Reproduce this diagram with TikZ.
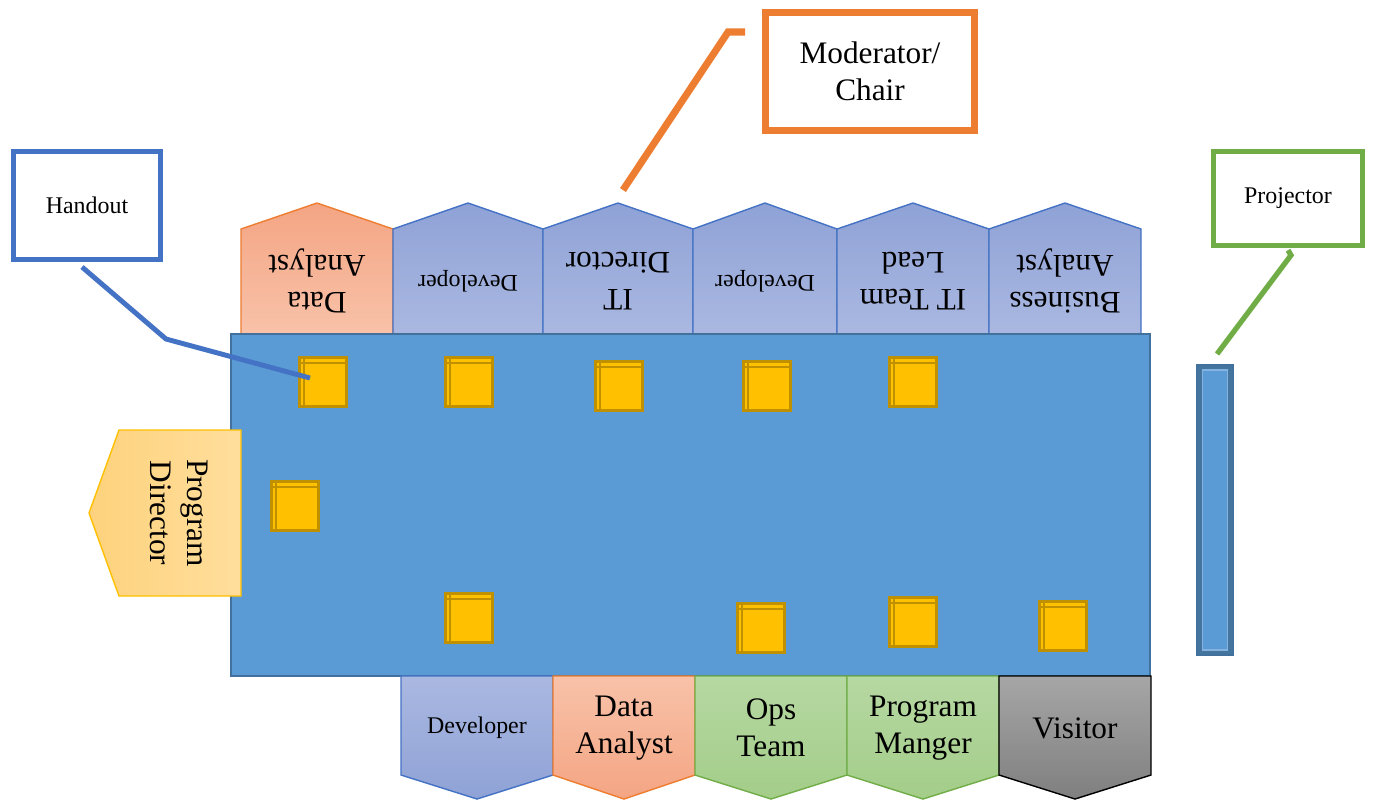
\documentclass[tikz,border=0pt]{standalone}
\usepackage{fontspec}
\setmainfont{Liberation Serif}

\definecolor{tablefill}{HTML}{5B9BD5}
\definecolor{tableline}{HTML}{41719C}
\definecolor{scrframe}{HTML}{44759F}
\definecolor{scrlight}{HTML}{86B2E0}
\definecolor{seatline}{HTML}{4472C4}
\definecolor{bluedark}{HTML}{8FA2D6}
\definecolor{bluelight}{HTML}{AAB8E1}
\definecolor{orangeline}{HTML}{ED7D31}
\definecolor{salmondark}{HTML}{F4A583}
\definecolor{salmonlight}{HTML}{F8C2A9}
\definecolor{greenline}{HTML}{70AD47}
\definecolor{greendark}{HTML}{A3CD89}
\definecolor{greenlight}{HTML}{B6D8A2}
\definecolor{greydark}{HTML}{7F7F7F}
\definecolor{greylight}{HTML}{A6A6A6}
\definecolor{goldline}{HTML}{FFC000}
\definecolor{golddark}{HTML}{FED27D}
\definecolor{goldlight}{HTML}{FFDE9C}
\definecolor{handfill}{HTML}{FFC000}
\definecolor{handline}{HTML}{BF9000}

\tikzset{
  bigtxt/.style={font=\fontsize{8.9}{10.5}\selectfont, align=center, inner sep=0pt},
  smalltxt/.style={font=\fontsize{6.8}{8}\selectfont, align=center, inner sep=0pt},
  upblue/.style={top color=bluedark, bottom color=bluelight, draw=seatline, line width=0.4pt},
  upsalmon/.style={top color=salmondark, bottom color=salmonlight, draw=orangeline, line width=0.4pt},
  downblue/.style={top color=bluelight, bottom color=bluedark, draw=seatline, line width=0.4pt},
  downsalmon/.style={top color=salmonlight, bottom color=salmondark, draw=orangeline, line width=0.4pt},
  downgreen/.style={top color=greenlight, bottom color=greendark, draw=greenline, line width=0.4pt},
  downgrey/.style={top color=greylight, bottom color=greydark, draw=black, line width=0.4pt},
  tablebox/.style={rectangle, fill=tablefill, draw=tableline, line width=0.6pt, inner sep=0pt},
  handout/.style={rectangle, fill=handfill, draw=handline, line width=0.85pt, inner sep=0pt,
    minimum width=0.47cm, minimum height=0.49cm, anchor=north west},
  handoutline/.style={draw=handline, line width=0.8pt},
  callout/.style={rectangle, fill=white, inner sep=0pt},
  leader/.style={line width=1.4pt},
}

\begin{document}
\begin{tikzpicture}[x=0.01cm, y=-0.01cm]
    \useasboundingbox (0,0) rectangle (1374,799);

    % seats along the far side, names turned towards the table
    \foreach \xl/\xr/\kind/\txt/\sz [count=\i] in {241/393/upsalmon/{Data\\Analyst}/bigtxt,
        393/543/upblue/Developer/smalltxt, 543/693/upblue/{IT\\Director}/bigtxt,
        693/837/upblue/Developer/smalltxt, 837/989/upblue/{IT Team\\Lead}/bigtxt,
        989/1141/upblue/{Business\\Analyst}/bigtxt}
    {
        \path[\kind] (\xl,334) -- (\xl,229) -- ({(\xl+\xr)/2},203) -- (\xr,229) -- (\xr,334) -- cycle;
        \node[\sz, rotate=180] (top\i) at ({(\xl+\xr)/2},281) {\txt};
    }

    % the table
    \node[tablebox, minimum width=9.19cm, minimum height=3.42cm] (table) at (690.5,505) {};

    % head of the table
    \path[left color=golddark, right color=goldlight, draw=goldline, line width=0.4pt]
        (241,430) -- (119,430) -- (89,513) -- (119,596) -- (241,596) -- cycle;
    \node[bigtxt, rotate=-90] (head) at (179,513) {Program\\Director};

    % seats along the near side
    \foreach \xl/\xr/\kind/\txt/\sz [count=\i] in {401/553/downblue/Developer/smalltxt,
        553/695/downsalmon/{Data\\Analyst}/bigtxt, 695/847/downgreen/{Ops\\Team}/bigtxt,
        847/999/downgreen/{Program\\Manger}/bigtxt, 999/1151/downgrey/Visitor/bigtxt}
    {
        \path[\kind] (\xl,676) -- (\xl,775) -- ({(\xl+\xr)/2},799) -- (\xr,775) -- (\xr,676) -- cycle;
        \node[\sz] (bot\i) at ({(\xl+\xr)/2},728) {\txt};
    }

    % handouts on the table
    \foreach \hx/\hy [count=\i] in {298/356, 444/356, 594/360, 742/360, 888/356,
        270/480, 444/592, 736/602, 888/596, 1038/600}
    {
        \node[handout] (h\i) at (\hx,\hy) {};
        \draw[handoutline] (h\i.north west) ++(6,0) -- ++(0,52)
            (h\i.north west) ++(0,7) -- ++(50,0);
    }

    % projector screen
    \node[rectangle, fill=scrframe, draw=tableline, line width=0.6pt, inner sep=0pt,
        minimum width=0.36cm, minimum height=2.9cm] (screen) at (1215,510) {};
    \node[rectangle, fill=tablefill, draw=scrlight, line width=0.4pt, inner sep=0pt,
        minimum width=0.25cm, minimum height=2.8cm] (screenin) at (screen.center) {};

    % callouts
    \node[callout, draw=seatline, line width=1.4pt, minimum width=1.46cm, minimum height=1.08cm,
        smalltxt] (hbox) at (87,205.5) {Handout};
    \node[callout, draw=orangeline, line width=2pt, minimum width=2.09cm, minimum height=1.18cm,
        bigtxt] (mbox) at (870,71.5) {Moderator/\\Chair};
    \node[callout, draw=greenline, line width=1.5pt, minimum width=1.49cm, minimum height=0.94cm,
        smalltxt] (pbox) at (1288,198.5) {Projector};

    \coordinate (hbend) at (166,339);
    \coordinate (hend) at (310,378);
    \coordinate (mtail) at (745,32);
    \coordinate (mbend) at (728,32);
    \coordinate (mend) at (623,190);
    \coordinate (pend) at (1217,354);

    \draw[leader, seatline] (hbox.south) ++(-5,5) -- (hbend) -- (hend);
    \draw[leader, orangeline, line width=2pt] (mtail) -- (mbend) -- (mend);
    \draw[leader, greenline, line width=1.5pt] (pbox.south) ++(0,2) -- ++(3,5) -- (pend);
\end{tikzpicture}
\end{document}
